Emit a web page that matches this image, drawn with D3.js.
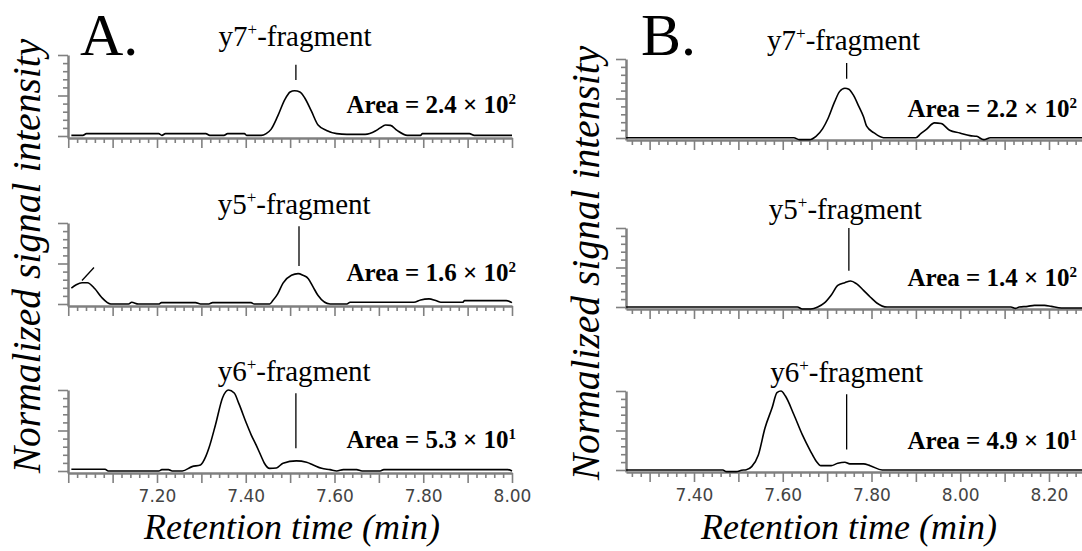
<!DOCTYPE html>
<html>
<head>
<meta charset="utf-8">
<script src="https://d3js.org/d3.v7.min.js"></script>
<style>
  body { margin: 0; background: #fff; }
  svg { display: block; }
</style>
</head>
<body>
<svg></svg>
<script>
// ---- data (time in min, normalized intensity) ----
const panelNames = ["A.", "B."];
const fragments = ["y7", "y5", "y6"];
const areaA = [["2.4", "2"], ["1.6", "2"], ["5.3", "1"]];
const areaB = [["2.2", "2"], ["1.4", "2"], ["4.9", "1"]];
// marker: [time, top value, bottom value]
const markerA = [[7.513, 0.88, 0.69], [7.520, 0.96, 0.47], [7.513, 0.96, 0.28]];
const markerB = [[7.744, 0.95, 0.75], [7.749, 1.00, 0.46], [7.744, 0.96, 0.26]];
const sideMarkA = [[7.031, 0.29], [7.058, 0.45]];
const labelTimeA = [7.511, 7.509, 7.509];
const labelTimeB = [7.737, 7.741, 7.744];
const tickLabelsA = [7.2, 7.4, 7.6, 7.8, 8.0];
const tickLabelsB = [7.4, 7.6, 7.8, 8.0, 8.2];

const y7A = [[7.007,0.008],[7.033,0.008],[7.041,0.029],[7.204,0.029],[7.211,0.008],[7.219,0.029],[7.310,0.029],[7.319,0.008],[7.351,0.008],[7.359,0.029],[7.397,0.029],[7.402,0.008],[7.435,0.008],[7.446,0.03],[7.457,0.082],[7.472,0.245],[7.488,0.449],[7.500,0.543],[7.510,0.559],[7.522,0.543],[7.533,0.469],[7.548,0.306],[7.563,0.135],[7.582,0.069],[7.605,0.029],[7.628,0.02],[7.669,0.02],[7.692,0.061],[7.703,0.10],[7.715,0.135],[7.726,0.131],[7.741,0.069],[7.764,0.008],[7.794,0.008],[7.798,0.029],[7.904,0.029],[7.915,0.008],[8.000,0.008]];
const y5A = [[7.007,0.196],[7.018,0.238],[7.031,0.263],[7.043,0.263],[7.060,0.188],[7.075,0.083],[7.096,0.0],[7.136,0.0],[7.143,0.021],[7.158,0.0],[7.204,0.0],[7.210,0.017],[7.287,0.017],[7.298,0.0],[7.317,0.0],[7.325,0.017],[7.412,0.017],[7.419,0.0],[7.454,0.0],[7.461,0.042],[7.472,0.125],[7.484,0.258],[7.503,0.354],[7.518,0.375],[7.529,0.354],[7.541,0.313],[7.552,0.208],[7.563,0.104],[7.590,0.0],[7.628,0.0],[7.635,0.021],[7.779,0.021],[7.794,0.05],[7.813,0.063],[7.828,0.042],[7.840,0.021],[7.889,0.021],[7.893,0.042],[7.987,0.042],[8.000,0.017]];
const y6A = [[7.007,0.021],[7.083,0.021],[7.090,0.0],[7.204,0.0],[7.211,0.017],[7.226,0.017],[7.234,0.0],[7.257,0.0],[7.279,0.054],[7.298,0.075],[7.310,0.18],[7.317,0.283],[7.332,0.575],[7.348,0.908],[7.361,1.0],[7.374,0.963],[7.385,0.825],[7.401,0.596],[7.412,0.45],[7.423,0.325],[7.435,0.179],[7.442,0.096],[7.454,0.033],[7.469,0.038],[7.484,0.096],[7.514,0.125],[7.537,0.108],[7.552,0.075],[7.571,0.033],[7.590,0.017],[7.605,0.0],[7.620,0.017],[7.650,0.017],[7.662,0.0],[7.703,0.0],[7.711,0.017],[7.991,0.017],[8.000,0.0]];
const y7B = [[7.247,0.004],[7.625,0.004],[7.637,-0.021],[7.660,-0.021],[7.675,0.021],[7.690,0.119],[7.702,0.247],[7.717,0.460],[7.728,0.587],[7.740,0.630],[7.749,0.617],[7.759,0.545],[7.770,0.417],[7.782,0.268],[7.789,0.149],[7.805,0.068],[7.827,0.004],[7.900,0.004],[7.911,0.055],[7.923,0.106],[7.942,0.191],[7.957,0.183],[7.976,0.098],[7.999,0.064],[8.022,0.030],[8.037,0.021],[8.053,-0.021],[8.068,0.004],[8.300,0.004]];
const y5B = [[7.247,0.0],[7.633,0.0],[7.644,-0.025],[7.663,-0.025],[7.679,0.0],[7.694,0.051],[7.709,0.148],[7.724,0.274],[7.740,0.308],[7.753,0.329],[7.766,0.295],[7.782,0.211],[7.797,0.127],[7.812,0.051],[7.835,0.0],[8.114,0.0],[8.125,-0.017],[8.133,0.0],[8.152,0.008],[8.167,0.021],[8.190,0.021],[8.205,0.008],[8.228,-0.013],[8.300,-0.013]];
const y6B = [[7.247,0.0],[7.465,0.0],[7.473,-0.021],[7.495,-0.021],[7.507,-0.004],[7.518,0.004],[7.530,0.043],[7.545,0.191],[7.560,0.532],[7.576,0.787],[7.587,0.979],[7.596,1.0],[7.606,0.936],[7.625,0.702],[7.644,0.447],[7.663,0.234],[7.675,0.115],[7.686,0.055],[7.709,0.055],[7.724,0.085],[7.740,0.098],[7.751,0.077],[7.782,0.077],[7.797,0.055],[7.824,0.0],[8.300,0.0]];

// ---- layout ----
const W = 1082, H = 551;
const serif = "'Liberation Serif', 'Times New Roman', serif";
const axisColor = "#808080";

const svg = d3.select("svg").attr("width", W).attr("height", H);

const panels = [
  { name: panelNames[0], nameX: 80, traces: [y7A, y5A, y6A], areas: areaA, markers: markerA,
    labelTimes: labelTimeA, tickLabels: tickLabelsA,
    cal: [[7.2, 8.0], [157, 512]], start: 68, end: 8.0,
    tops: [55, 223, 390], h: 81, areaEnd: 516, yLabel: [40, 256], xLabel: [292, 539] },
  { name: panelNames[1], nameX: 641, traces: [y7B, y5B, y6B], areas: areaB, markers: markerB,
    labelTimes: labelTimeB, tickLabels: tickLabelsB,
    cal: [[7.4, 8.2], [694, 1049]], start: 626, end: 8.3,
    tops: [59, 228, 391], h: 79, areaEnd: 1077, yLabel: [599, 263], xLabel: [849, 539] }
];

svg.append("defs").append("clipPath").attr("id", "clip")
  .append("rect").attr("x", 0).attr("y", 0).attr("width", W).attr("height", H);

const fmt = d3.format(".2f");
const near = (a, b) => Math.abs(a - b) < 1e-6;

panels.forEach((p, pi) => {
  const x0 = d3.scaleLinear().domain(p.cal[0]).range(p.cal[1]);
  const x = d3.scaleLinear().domain([x0.invert(p.start), p.end]).range([p.start, x0(p.end)]);
  const t0 = Math.ceil(x.domain()[0] * 10 - 1e-6) / 10;
  const majorX = d3.range(Math.round(t0 * 10), Math.round(p.end * 10) + 1).map(d => d / 10);
  const minorX = d3.range(Math.ceil(x.domain()[0] * 50), Math.floor(p.end * 50) + 1)
    .map(d => d / 50).filter(d => !majorX.some(m => near(m, d)));

  const g = svg.append("g").attr("clip-path", "url(#clip)");

  g.append("text").attr("x", p.nameX).attr("y", 55)
    .style("font-family", serif).attr("font-size", 60).text(p.name);

  p.tops.forEach((top, ri) => {
    const base = top + p.h;
    const y = d3.scaleLinear().domain([0, 1]).range([base, top]);
    const yAx = d3.scaleLinear().domain([y.invert(base + 2), 1]).range([base + 2, top]);

    // x axis: major + minor ticks
    const xg = g.append("g").attr("transform", `translate(0,${base + 2})`)
      .call(d3.axisBottom(x).tickValues(majorX).tickSize(10).tickSizeOuter(0).tickPadding(7)
        .tickFormat(d => (ri === 2 && p.tickLabels.some(v => near(v, d))) ? fmt(d) : ""));
    g.append("g").attr("transform", `translate(0,${base + 2})`)
      .call(d3.axisBottom(x).tickValues(minorX).tickSize(5).tickFormat(""))
      .select(".domain").remove();

    // y axis
    const yg = g.append("g").attr("transform", `translate(${p.start},0)`)
      .call(d3.axisLeft(yAx).tickValues([0, 0.5, 1]).tickSize(10).tickSizeOuter(0).tickFormat(""));
    g.append("g").attr("transform", `translate(${p.start},0)`)
      .call(d3.axisLeft(yAx).tickValues(d3.range(1, 10).filter(d => d !== 5).map(d => d / 10))
        .tickSize(5).tickFormat(""))
      .select(".domain").remove();

    // trace
    g.append("path").datum(p.traces[ri])
      .attr("fill", "none").attr("stroke", "#000").attr("stroke-width", 1.6)
      .attr("stroke-linejoin", "round")
      .attr("d", d3.line().x(d => x(d[0])).y(d => y(d[1])).curve(d3.curveMonotoneX));

    // peak marker
    const m = p.markers[ri];
    g.append("line").attr("x1", x(m[0])).attr("x2", x(m[0]))
      .attr("y1", y(m[1])).attr("y2", y(m[2])).attr("stroke", "#000").attr("stroke-width", 1.3);
    if (pi === 0 && ri === 1) {
      g.append("line").attr("x1", x(sideMarkA[0][0])).attr("y1", y(sideMarkA[0][1]))
        .attr("x2", x(sideMarkA[1][0])).attr("y2", y(sideMarkA[1][1]))
        .attr("stroke", "#000").attr("stroke-width", 1.3);
    }

    // fragment label
    const lt = g.append("text").attr("x", x(p.labelTimes[ri])).attr("y", top - 9)
      .attr("text-anchor", "middle").style("font-family", serif).attr("font-size", 29);
    lt.append("tspan").text(fragments[ri]);
    lt.append("tspan").attr("font-size", 17).attr("dy", -11).text("+");
    lt.append("tspan").attr("dy", 11).text("-fragment");

    // area label
    const a = p.areas[ri];
    const at = g.append("text").attr("x", p.areaEnd).attr("y", top + 58)
      .attr("text-anchor", "end").style("font-family", serif).attr("font-size", 25)
      .attr("font-weight", "bold");
    at.append("tspan").text(`Area = ${a[0]} \u00d7 10`);
    at.append("tspan").attr("font-size", 15).attr("dy", -9).text(a[1]);

    [xg, yg].forEach(s => s.select(".domain").attr("stroke", axisColor).attr("stroke-width", 2.5));
  });

  g.selectAll(".tick line").attr("stroke", axisColor).attr("stroke-width", 1.6);
  g.selectAll(".tick text").attr("font-family", "'DejaVu Sans', Verdana, sans-serif")
    .attr("font-size", 17).attr("fill", "#444");

  g.append("text")
    .attr("transform", `translate(${p.yLabel[0]},${p.yLabel[1]}) rotate(-90)`)
    .attr("text-anchor", "middle").style("font-family", serif).attr("font-style", "italic")
    .attr("font-size", 39.5).text("Normalized signal intensity");
  g.append("text").attr("x", p.xLabel[0]).attr("y", p.xLabel[1])
    .attr("text-anchor", "middle").style("font-family", serif).attr("font-style", "italic")
    .attr("font-size", 36).text("Retention time (min)");
});
</script>
</body>
</html>
